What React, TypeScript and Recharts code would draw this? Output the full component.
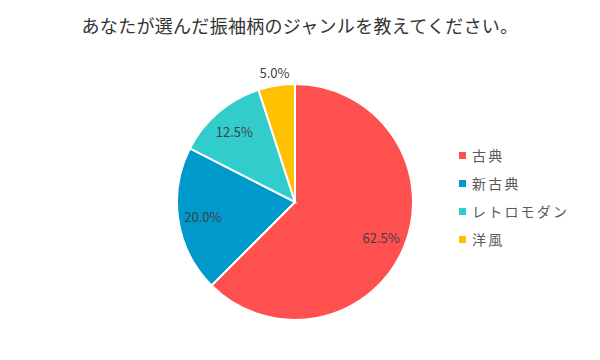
import { Cell, Legend, Pie, PieChart } from "recharts";

const genres = ["古典", "新古典", "レトロモダン", "洋風"];
const shares = [62.5, 20.0, 12.5, 5.0];
const colors = ["#FF5050", "#0099CC", "#33CCCC", "#FFC000"];

const data = genres.map((name, i) => ({ name, value: shares[i] }));

const RAD = Math.PI / 180;

function renderLabel(props: any) {
  const { cx, cy, midAngle, outerRadius, value } = props;
  const small = value < 8;
  const r = small ? outerRadius + 13 : outerRadius * 0.79;
  const x = cx + r * Math.cos(-midAngle * RAD);
  const y = cy + r * Math.sin(-midAngle * RAD);
  return (
    <text x={x} y={y} fill="#404040" fontSize={13} textAnchor="middle" dominantBaseline="central">
      {value.toFixed(1)}%
    </text>
  );
}

function LegendBox() {
  return (
    <div style={{ display: "flex", flexDirection: "column", gap: 10 }}>
      {data.map((d, i) => (
        <div key={d.name} style={{ display: "flex", alignItems: "center", height: 18 }}>
          <span style={{ width: 7, height: 7, background: colors[i], marginRight: 6 }} />
          <span style={{ fontSize: 14, color: "#595959", letterSpacing: 2.2 }}>{d.name}</span>
        </div>
      ))}
    </div>
  );
}

export default function App() {
  return (
    <div
      style={{
        position: "absolute",
        left: 0,
        top: 0,
        width: 600,
        height: 360,
        background: "#fff",
        fontFamily: "'Noto Sans CJK JP', 'Noto Sans', sans-serif",
      }}
    >
      <div
        style={{
          position: "absolute",
          top: 12,
          left: 0,
          width: 600,
          textAlign: "center",
          fontSize: 18,
          color: "#333",
          letterSpacing: 0.3,
        }}
      >
        あなたが選んだ振袖柄のジャンルを教えてください。
      </div>
      <PieChart width={600} height={360} margin={{ top: 0, right: 0, bottom: 0, left: 0 }}>
        <Pie
          data={data}
          dataKey="value"
          nameKey="name"
          cx={295}
          cy={202}
          outerRadius={118}
          startAngle={90}
          endAngle={-270}
          stroke="#fff"
          strokeWidth={2}
          label={renderLabel}
          labelLine={false}
          isAnimationActive={false}
        >
          {data.map((d, i) => (
            <Cell key={d.name} fill={colors[i]} />
          ))}
        </Pie>
        <Legend
          layout="vertical"
          align="right"
          verticalAlign="top"
          content={() => <LegendBox />}
          wrapperStyle={{ left: 459, top: 146, width: 140 }}
        />
      </PieChart>
    </div>
  );
}
